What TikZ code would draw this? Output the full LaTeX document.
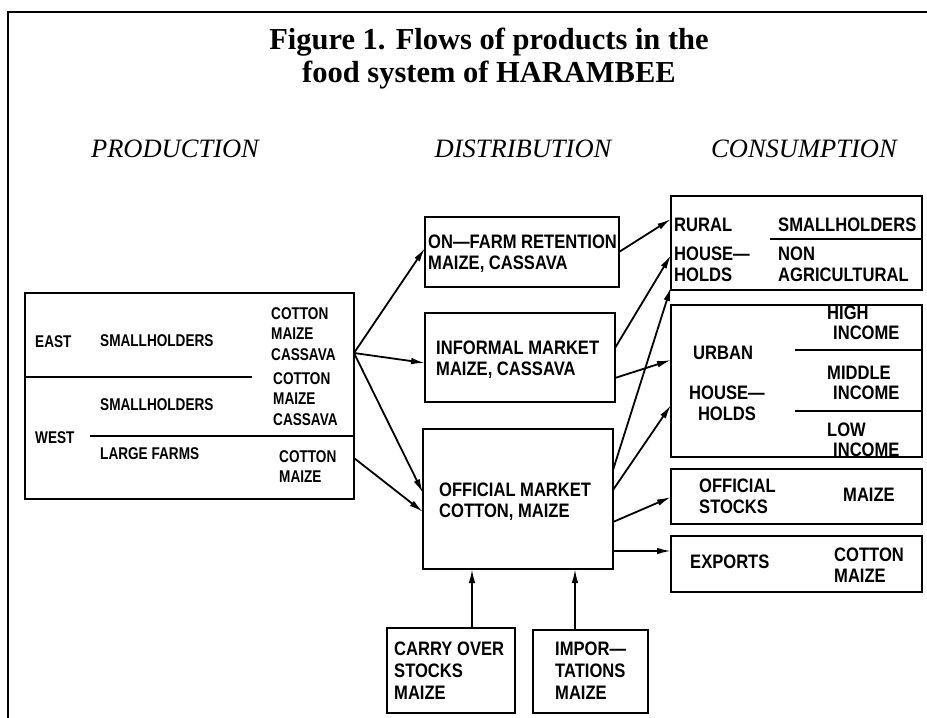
\documentclass[tikz,border=0pt]{standalone}
\usepackage{fontspec}
\setmainfont{Liberation Serif}
\newfontfamily\cadA[FakeStretch=0.85]{Liberation Sans}
\newfontfamily\cadB[FakeStretch=0.80]{Liberation Sans}
\usetikzlibrary{arrows.meta}
\begin{document}
\begin{tikzpicture}[x=1pt,y=-1pt,
  box/.style={draw, line width=1.9pt, inner sep=0pt, outer sep=0pt},
  lbl/.style={anchor=north west, inner sep=0pt, align=left,
              font=\cadA\bfseries\fontsize{19.5}{21}\selectfont},
  plbl/.style={anchor=north west, inner sep=0pt, align=left,
              font=\cadB\bfseries\fontsize{17}{20.5}\selectfont},
  flow/.style={line width=1.8pt, -{Latex[length=14pt,width=6.5pt]}},
  rule/.style={line width=1.6pt},
  heading/.style={anchor=base, inner sep=0pt,
              font=\itshape\fontsize{26.5}{30}\selectfont}]
\useasboundingbox (0,0) rectangle (927,718);
\fill[white] (0,0) rectangle (927,718);

% frame
\draw[line width=2.6pt] (927,12) -- (8,12) -- (8,718);

% title and column headings
\node[anchor=north, align=center, inner sep=0pt,
      font=\bfseries\fontsize{30.5}{33}\selectfont] (title) at (489,27.5)
      {Figure 1. Flows of products in the\\food system of HARAMBEE};
\node[heading] (hprod) at (175,157) {PRODUCTION};
\node[heading] (hdist) at (523,157) {DISTRIBUTION};
\node[heading] (hcons) at (804,157) {CONSUMPTION};

% production
\node[box, minimum width=329pt, minimum height=206pt] (prod) at (189.5,396) {};
\draw[rule] (prod.west |- 0,377) -- (252,377);
\draw[rule] (90,436) -- (prod.east |- 0,436);
\node[plbl] (east) at (35,335) {EAST};
\node[plbl] (esmall) at (100,334) {SMALLHOLDERS};
\node[plbl] (ecrops) at (271,307) {COTTON\\MAIZE\\CASSAVA};
\node[plbl] (wsmall) at (100,398) {SMALLHOLDERS};
\node[plbl] (wcrops) at (273,372) {COTTON\\MAIZE\\CASSAVA};
\node[plbl] (west) at (35,431) {WEST};
\node[plbl] (large) at (100,447) {LARGE FARMS};
\node[plbl] (lcrops) at (279,450) {COTTON\\MAIZE};

% distribution
\node[box, minimum width=194pt, minimum height=70pt] (onfarm) at (522,252) {};
\node[lbl] (onfarmt) at (428,235) {ON—FARM RETENTION\\MAIZE, CASSAVA};
\node[box, minimum width=190pt, minimum height=89pt] (informal) at (520,357.5) {};
\node[lbl] (informalt) at (436,341) {INFORMAL MARKET\\MAIZE, CASSAVA};
\node[box, minimum width=190pt, minimum height=140pt] (official) at (518,499) {};
\node[lbl] (officialt) at (439,483) {OFFICIAL MARKET\\COTTON, MAIZE};

% consumption
\node[box, minimum width=251pt, minimum height=94pt] (rural) at (796.5,243) {};
\draw[rule] (770,239) -- (rural.east |- 0,239);
\node[lbl] (ruralt) at (674,218) {RURAL};
\node[lbl] (rsmall) at (778,218) {SMALLHOLDERS};
\node[lbl] (rhouse) at (674,247) {HOUSE—\\HOLDS};
\node[lbl] (rnonag) at (778,247) {NON\\AGRICULTURAL};

\node[box, minimum width=251pt, minimum height=152pt] (urban) at (796.5,381) {};
\draw[rule] (795,350) -- (urban.east |- 0,350);
\draw[rule] (795,411) -- (urban.east |- 0,411);
\node[lbl] (urbant) at (693,346) {URBAN};
\node[lbl, anchor=north, align=center] (uhouse) at (727,386) {HOUSE—\\HOLDS};
\node[lbl, font=\cadA\bfseries\fontsize{19.5}{19.5}\selectfont] (uhigh) at (827,306) {HIGH\\\hspace*{6pt}INCOME};
\node[lbl, font=\cadA\bfseries\fontsize{19.5}{19.5}\selectfont] (umid) at (827,366) {MIDDLE\\\hspace*{6pt}INCOME};
\node[lbl, font=\cadA\bfseries\fontsize{19.5}{19.5}\selectfont] (ulow) at (827,423) {LOW\\\hspace*{6pt}INCOME};

\node[box, minimum width=251pt, minimum height=55pt] (stocks) at (796.5,496.5) {};
\node[lbl] (stockst) at (699,479) {OFFICIAL\\STOCKS};
\node[lbl] (stocksm) at (843,488) {MAIZE};

\node[box, minimum width=251pt, minimum height=56pt] (exports) at (796.5,564) {};
\node[lbl] (exportst) at (690,555) {EXPORTS};
\node[lbl] (exportsc) at (834,548) {COTTON\\MAIZE};

% supply into the official market
\node[box, minimum width=128pt, minimum height=85pt] (carry) at (451,670.5) {};
\node[lbl, font=\cadA\bfseries\fontsize{19.5}{22}\selectfont] (carryt) at (394,642) {CARRY OVER\\STOCKS\\MAIZE};
\node[box, minimum width=115pt, minimum height=83pt] (impor) at (590.5,671.5) {};
\node[lbl, font=\cadA\bfseries\fontsize{19.5}{22}\selectfont] (import) at (555,642) {IMPOR—\\TATIONS\\MAIZE};

% flows
\draw[flow] (prod.east |- 0,353) -- (onfarm.west |- 0,248);
\draw[flow] (prod.east |- 0,353) -- (informal.west |- 0,363);
\draw[flow] (prod.east |- 0,353) -- (official.west |- 0,493);
\draw[flow] (prod.east |- 0,458) -- (official.west |- 0,512);

\draw[flow] (onfarm.east |- 0,252) -- (rural.west |- 0,219);
\draw[flow] (informal.east |- 0,348) -- (rural.west |- 0,255);
\draw[flow] (informal.east |- 0,378) -- (urban.west |- 0,360);
\draw[flow] (official.east |- 0,470) -- (rural.west |- 0,287);
\draw[flow] (official.east |- 0,490) -- (urban.west |- 0,405);
\draw[flow] (official.east |- 0,522) -- (stocks.west |- 0,497);
\draw[flow] (official.east |- 0,551) -- (exports.west |- 0,551);

\draw[flow] (carry.north -| 472,0) -- (official.south -| 472,0);
\draw[flow] (impor.north -| 575,0) -- (official.south -| 575,0);
\end{tikzpicture}
\end{document}
